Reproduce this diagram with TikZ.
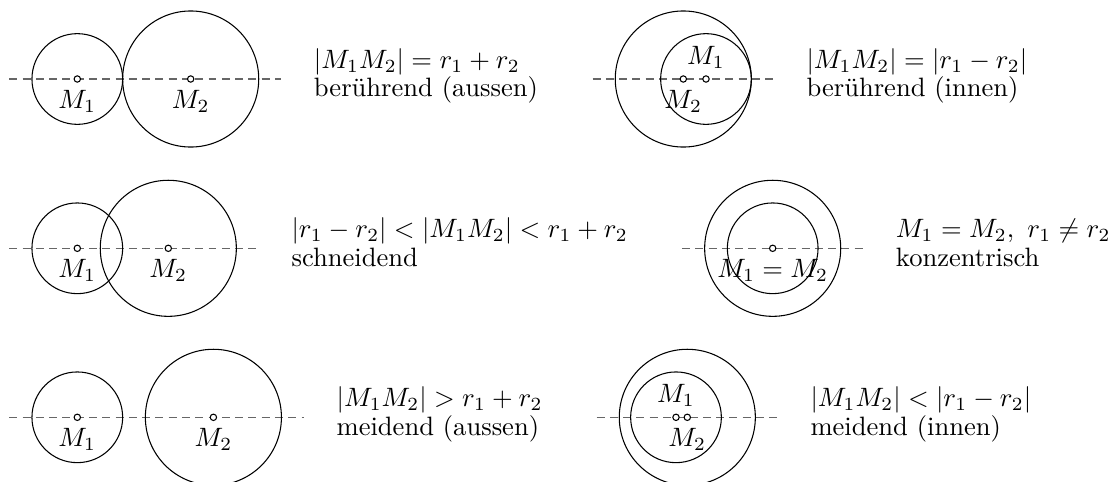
\documentclass[tikz,border=0pt]{standalone}
\usetikzlibrary{calc}
\begin{document}
\begin{tikzpicture}[x=0.0132275cm,y=-0.0132275cm,
  axis/.style={draw=black!60,dash pattern=on 3pt off 2pt,line width=0.6pt},
  circ/.style={draw=black,line width=0.4pt},
  ctr/.style={circle,draw=black,fill=white,inner sep=0pt,minimum size=2.4pt,line width=0.4pt},
  lbl/.style={inner sep=0pt},
  txt/.style={inner sep=0pt,anchor=base west}]
\useasboundingbox (0,0) rectangle (1108,482);

% ---------- row 1, left: touching outside
\coordinate (A1) at (77.3,79);
\coordinate (A2) at (190.7,79);
\draw[axis] ([xshift=-0.9cm]A1) -- ([xshift=1.2cm]A2) coordinate (Aend);
\draw[circ] (A1) circle[radius=0.6cm];
\draw[circ] (A2) circle[radius=0.9cm];
\node[ctr] (a1) at (A1) {};
\node[ctr] (a2) at (A2) {};
\node[lbl] (la1) at ($(A1)+(0,22)$) {$M_1$};
\node[lbl] (la2) at ($(A2)+(0,22)$) {$M_2$};
\node[txt] (eqA) at ($(Aend)+(32,-10.5)$) {$|M_1M_2| = r_1 + r_2$};
\node[txt] (txA) at ($(Aend)+(32,17.8)$) {berührend (aussen)};

% ---------- row 1, right: touching inside
\coordinate (B2) at (683.3,79);
\coordinate (B1) at (706.0,79);
\draw[axis] ([xshift=-1.2cm]B2) -- ([xshift=1.2cm]B2) coordinate (Bend);
\draw[circ] (B2) circle[radius=0.9cm];
\draw[circ] (B1) circle[radius=0.6cm];
\node[ctr] (b2) at (B2) {};
\node[ctr] (b1) at (B1) {};
\node[lbl] (lb1) at ($(B1)+(0,-22)$) {$M_1$};
\node[lbl] (lb2) at ($(B2)+(0,22)$) {$M_2$};
\node[txt] (eqB) at ($(Bend)+(32,-10.5)$) {$|M_1M_2| = |r_1 - r_2|$};
\node[txt] (txB) at ($(Bend)+(32,17.8)$) {berührend (innen)};

% ---------- row 2, left: intersecting
\coordinate (C1) at (77.3,248.3);
\coordinate (C2) at (168.3,248.3);
\draw[axis] ([xshift=-0.9cm]C1) -- ([xshift=1.2cm]C2) coordinate (Cend);
\draw[circ] (C1) circle[radius=0.6cm];
\draw[circ] (C2) circle[radius=0.9cm];
\node[ctr] (c1) at (C1) {};
\node[ctr] (c2) at (C2) {};
\node[lbl] (lc1) at ($(C1)+(0,22)$) {$M_1$};
\node[lbl] (lc2) at ($(C2)+(0,22)$) {$M_2$};
\node[txt] (eqC) at ($(Cend)+(32,-10.5)$) {$|r_1 - r_2| < |M_1M_2| < r_1 + r_2$};
\node[txt] (txC) at ($(Cend)+(32,17.8)$) {schneidend};

% ---------- row 2, right: concentric
\coordinate (D) at (772.7,248.3);
\draw[axis] ([xshift=-1.2cm]D) -- ([xshift=1.2cm]D) coordinate (Dend);
\draw[circ] (D) circle[radius=0.9cm];
\draw[circ] (D) circle[radius=0.6cm];
\node[ctr] (d) at (D) {};
\node[lbl] (ld) at ($(D)+(0,22)$) {$M_1 = M_2$};
\node[txt] (eqD) at ($(Dend)+(32,-10.5)$) {$M_1 = M_2,\ r_1 \neq r_2$};
\node[txt] (txD) at ($(Dend)+(32,17.8)$) {konzentrisch};

% ---------- row 3, left: separate outside
\coordinate (E1) at (77.3,417.3);
\coordinate (E2) at (213.4,417.3);
\draw[axis] ([xshift=-0.9cm]E1) -- ([xshift=1.2cm]E2) coordinate (Eend);
\draw[circ] (E1) circle[radius=0.6cm];
\draw[circ] (E2) circle[radius=0.9cm];
\node[ctr] (e1) at (E1) {};
\node[ctr] (e2) at (E2) {};
\node[lbl] (le1) at ($(E1)+(0,22)$) {$M_1$};
\node[lbl] (le2) at ($(E2)+(0,22)$) {$M_2$};
\node[txt] (eqE) at ($(Eend)+(32,-10.5)$) {$|M_1M_2| > r_1 + r_2$};
\node[txt] (txE) at ($(Eend)+(32,17.8)$) {meidend (aussen)};

% ---------- row 3, right: separate inside
\coordinate (F2) at (687.3,417.3);
\coordinate (F1) at (676.0,417.3);
\draw[axis] ([xshift=-1.2cm]F2) -- ([xshift=1.2cm]F2) coordinate (Fend);
\draw[circ] (F2) circle[radius=0.9cm];
\draw[circ] (F1) circle[radius=0.6cm];
\node[ctr] (f1) at (F1) {};
\node[ctr] (f2) at (F2) {};
\node[lbl] (lf1) at ($(F1)+(0,-22)$) {$M_1$};
\node[lbl] (lf2) at ($(F2)+(0,22)$) {$M_2$};
\node[txt] (eqF) at ($(Fend)+(32,-10.5)$) {$|M_1M_2| < |r_1 - r_2|$};
\node[txt] (txF) at ($(Fend)+(32,17.8)$) {meidend (innen)};
\end{tikzpicture}
\end{document}
